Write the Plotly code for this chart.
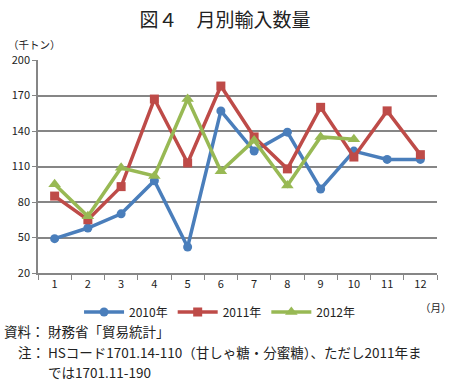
import plotly.graph_objects as go

months = ["1", "2", "3", "4", "5", "6", "7", "8", "9", "10", "11", "12"]
y2010 = [49, 58, 70, 98, 42, 157, 123, 139, 91, 123, 116, 116]
y2011 = [85, 65, 93, 167, 113, 178, 135, 108, 160, 118, 157, 120]
y2012 = [95, 68, 109, 102, 167, 106, 132, 94, 135, 133]
yticks = [20, 50, 80, 110, 140, 170, 200]

FONT = "Noto Sans CJK JP"
fig = go.Figure()
fig.add_trace(go.Scatter(x=months, y=y2010, name="2010年", mode="lines+markers",
                         line=dict(color="#4a7ebb", width=3.5),
                         marker=dict(symbol="circle", size=9, color="#4a7ebb")))
fig.add_trace(go.Scatter(x=months, y=y2011, name="2011年", mode="lines+markers",
                         line=dict(color="#be4b48", width=3.5),
                         marker=dict(symbol="square", size=9, color="#be4b48")))
fig.add_trace(go.Scatter(x=months[:len(y2012)], y=y2012, name="2012年", mode="lines+markers",
                         line=dict(color="#98b954", width=3.5),
                         marker=dict(symbol="triangle-up", size=11, color="#98b954")))

fig.update_layout(
    width=450, height=385,
    margin=dict(l=36, r=13, t=60, b=112),
    paper_bgcolor="white", plot_bgcolor="white",
    font=dict(family=FONT, size=11, color="#222"),
    title=dict(text="図４　月別輸入数量", x=0.5, xanchor="center", y=0.948, yanchor="middle",
               font=dict(family=FONT, size=19, color="#222")),
    legend=dict(orientation="h", x=0.455, xanchor="center", y=-0.183, yanchor="middle",
                font=dict(family=FONT, size=12), itemwidth=40, tracegroupgap=0),
    showlegend=True,
)
fig.update_xaxes(type="category", showgrid=False, showline=True, linecolor="#868686", linewidth=1.5,
                 ticks="outside", ticklen=5, tickcolor="#868686", tickson="boundaries",
                 tickfont=dict(family=FONT, size=11), range=[-0.5, 11.5])
fig.update_yaxes(range=[20, 200], tickvals=yticks, showgrid=True, gridcolor="#868686", gridwidth=1.5,
                 showline=True, linecolor="#868686", linewidth=1.5, ticks="outside", ticklen=4,
                 tickcolor="#868686", tickfont=dict(family=FONT, size=11), zeroline=False)

ann = [
    dict(text="（千トン）", x=4, y=44),
    dict(text="（月）", x=418, y=307),
]
for a in ann:
    fig.add_annotation(text=a["text"], xref="paper", yref="paper",
                       x=(a["x"] - 36) / 401, y=(273 - a["y"]) / 213,
                       xanchor="left", yanchor="middle", showarrow=False,
                       font=dict(family=FONT, size=10.5, color="#222"))

notes = [
    ("資料：", "財務省「貿易統計」", 331),
    ("注：", "HSコード1701.14-110（甘しゃ糖・分蜜糖）、ただし2011年ま", 352),
    ("", "では1701.11-190", 372),
]
for lab, txt, yy in notes:
    if lab:
        fig.add_annotation(text=lab, xref="paper", yref="paper", x=(45 - 36) / 401,
                           y=(273 - yy) / 213, xanchor="right", yanchor="middle", showarrow=False,
                           font=dict(family=FONT, size=13.5, color="#222"))
    fig.add_annotation(text=txt, xref="paper", yref="paper", x=(44 - 36) / 401,
                       y=(273 - yy) / 213, xanchor="left", yanchor="middle", showarrow=False,
                       font=dict(family=FONT, size=13.5, color="#222"))

fig.write_html("out.html", config={"displayModeBar": False},
               post_script="document.body.style.margin='0';")
